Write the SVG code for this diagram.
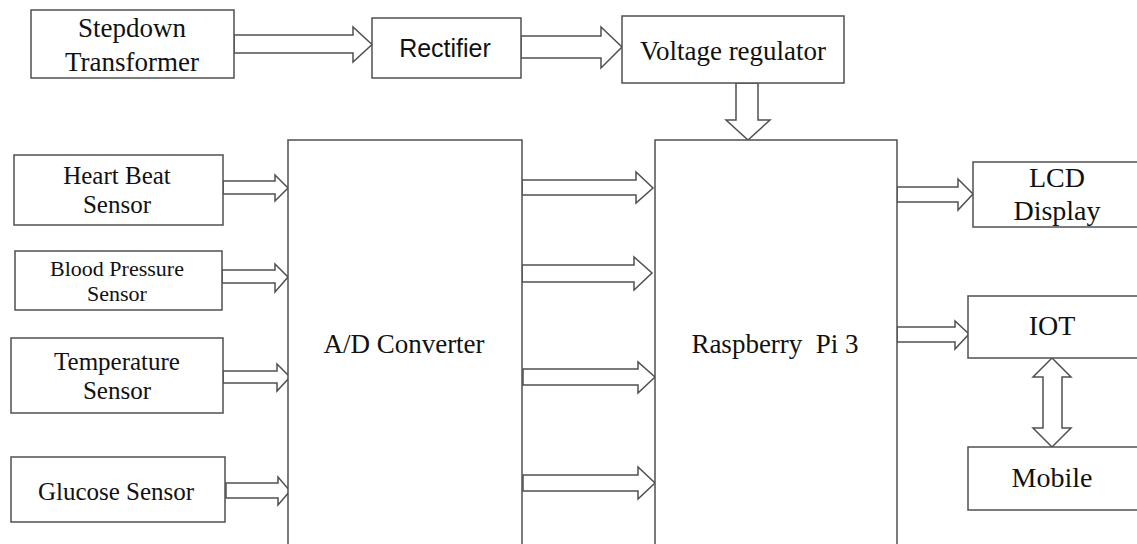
<svg xmlns="http://www.w3.org/2000/svg" width="1137" height="544" viewBox="0 0 1137 544">
<style>
.box{fill:#fff;stroke:#505050;stroke-width:1.5}
.arr{fill:#fff;stroke:#505050;stroke-width:1.5;stroke-linejoin:miter}
.t{font-family:"Liberation Serif","Times New Roman",serif;fill:#111;text-anchor:middle}
.s{font-family:"Liberation Sans",Arial,sans-serif;fill:#111;text-anchor:middle}
</style>
<rect width="1137" height="544" fill="#fff"/>
<g id="connectors">
<polygon class="arr" points="234,35 353,35 353,27 372,44.5 353,62 353,53 234,53"/>
<polygon class="arr" points="521,36 601,36 601,27 622,47 601,68 601,58 521,58"/>
<polygon class="arr" points="736,83 758,83 758,120 770,120 748,140 726,120 736,120"/>
<polygon class="arr" points="223,181 275,181 275,175 288,188 275,201 275,194 223,194"/>
<polygon class="arr" points="222,270 275,270 275,264 288,277 275,292 275,283 222,283"/>
<polygon class="arr" points="223,371 277,371 277,364 290,377 277,391 277,383 223,383"/>
<polygon class="arr" points="226,483 278,483 278,477 290,491 278,505 278,498 226,498"/>
<polygon class="arr" points="522,180 636,180 636,172 653,188 636,203 636,195 522,195"/>
<polygon class="arr" points="522,265 634,265 634,257 652,273 634,290 634,282 522,282"/>
<polygon class="arr" points="523,369 638,369 638,362 655,377 638,393 638,385 523,385"/>
<polygon class="arr" points="523,475 638,475 638,467 655,483 638,499 638,491 523,491"/>
<polygon class="arr" points="897,187 958,187 958,179 973,194 958,210 958,202 897,202"/>
<polygon class="arr" points="897,327 955,327 955,321 969,334 955,349 955,342 897,342"/>
<polygon class="arr" points="1052,358 1071,377 1062,377 1062,428 1071,428 1052,447 1033,428 1043,428 1043,377 1033,377"/>
</g>
<g id="transformer">
<rect class="box" x="31" y="10" width="203" height="68"/>
<text class="t" x="132" y="37" font-size="27">Stepdown</text>
<text class="t" x="132" y="71" font-size="27">Transformer</text>
</g>
<g id="rectifier">
<rect class="box" x="372" y="18" width="149" height="60"/>
<text class="s" x="445" y="57" font-size="25">Rectifier</text>
</g>
<g id="voltage-regulator">
<rect class="box" x="622" y="16" width="222" height="67"/>
<text class="t" x="733" y="60" font-size="27">Voltage regulator</text>
</g>
<g id="ad-converter">
<rect class="box" x="288" y="140" width="234" height="412"/>
<text class="t" x="404" y="353" font-size="27">A/D Converter</text>
</g>
<g id="raspberry-pi">
<rect class="box" x="655" y="140" width="242" height="412"/>
<text class="t" x="775" y="353" font-size="27" xml:space="preserve">Raspberry  Pi 3</text>
</g>
<g id="heart-beat">
<rect class="box" x="14" y="155" width="209" height="70"/>
<text class="t" x="117" y="184" font-size="25">Heart Beat</text>
<text class="t" x="117" y="213" font-size="25">Sensor</text>
</g>
<g id="blood-pressure">
<rect class="box" x="15" y="251" width="207" height="59"/>
<text class="t" x="117" y="276" font-size="22">Blood Pressure</text>
<text class="t" x="117" y="301" font-size="22">Sensor</text>
</g>
<g id="temperature">
<rect class="box" x="11" y="338" width="212" height="75"/>
<text class="t" x="117" y="370" font-size="25">Temperature</text>
<text class="t" x="117" y="399" font-size="25">Sensor</text>
</g>
<g id="glucose">
<rect class="box" x="11" y="457" width="214" height="65"/>
<text class="t" x="116" y="500" font-size="25">Glucose Sensor</text>
</g>
<g id="lcd">
<rect class="box" x="973" y="162" width="180" height="65"/>
<text class="t" x="1057" y="187" font-size="28">LCD</text>
<text class="t" x="1057" y="220" font-size="28">Display</text>
</g>
<g id="iot">
<rect class="box" x="968" y="296" width="180" height="62"/>
<text class="t" x="1052" y="335" font-size="28">IOT</text>
</g>
<g id="mobile">
<rect class="box" x="968" y="447" width="180" height="63"/>
<text class="t" x="1052" y="487" font-size="28">Mobile</text>
</g>
</svg>
